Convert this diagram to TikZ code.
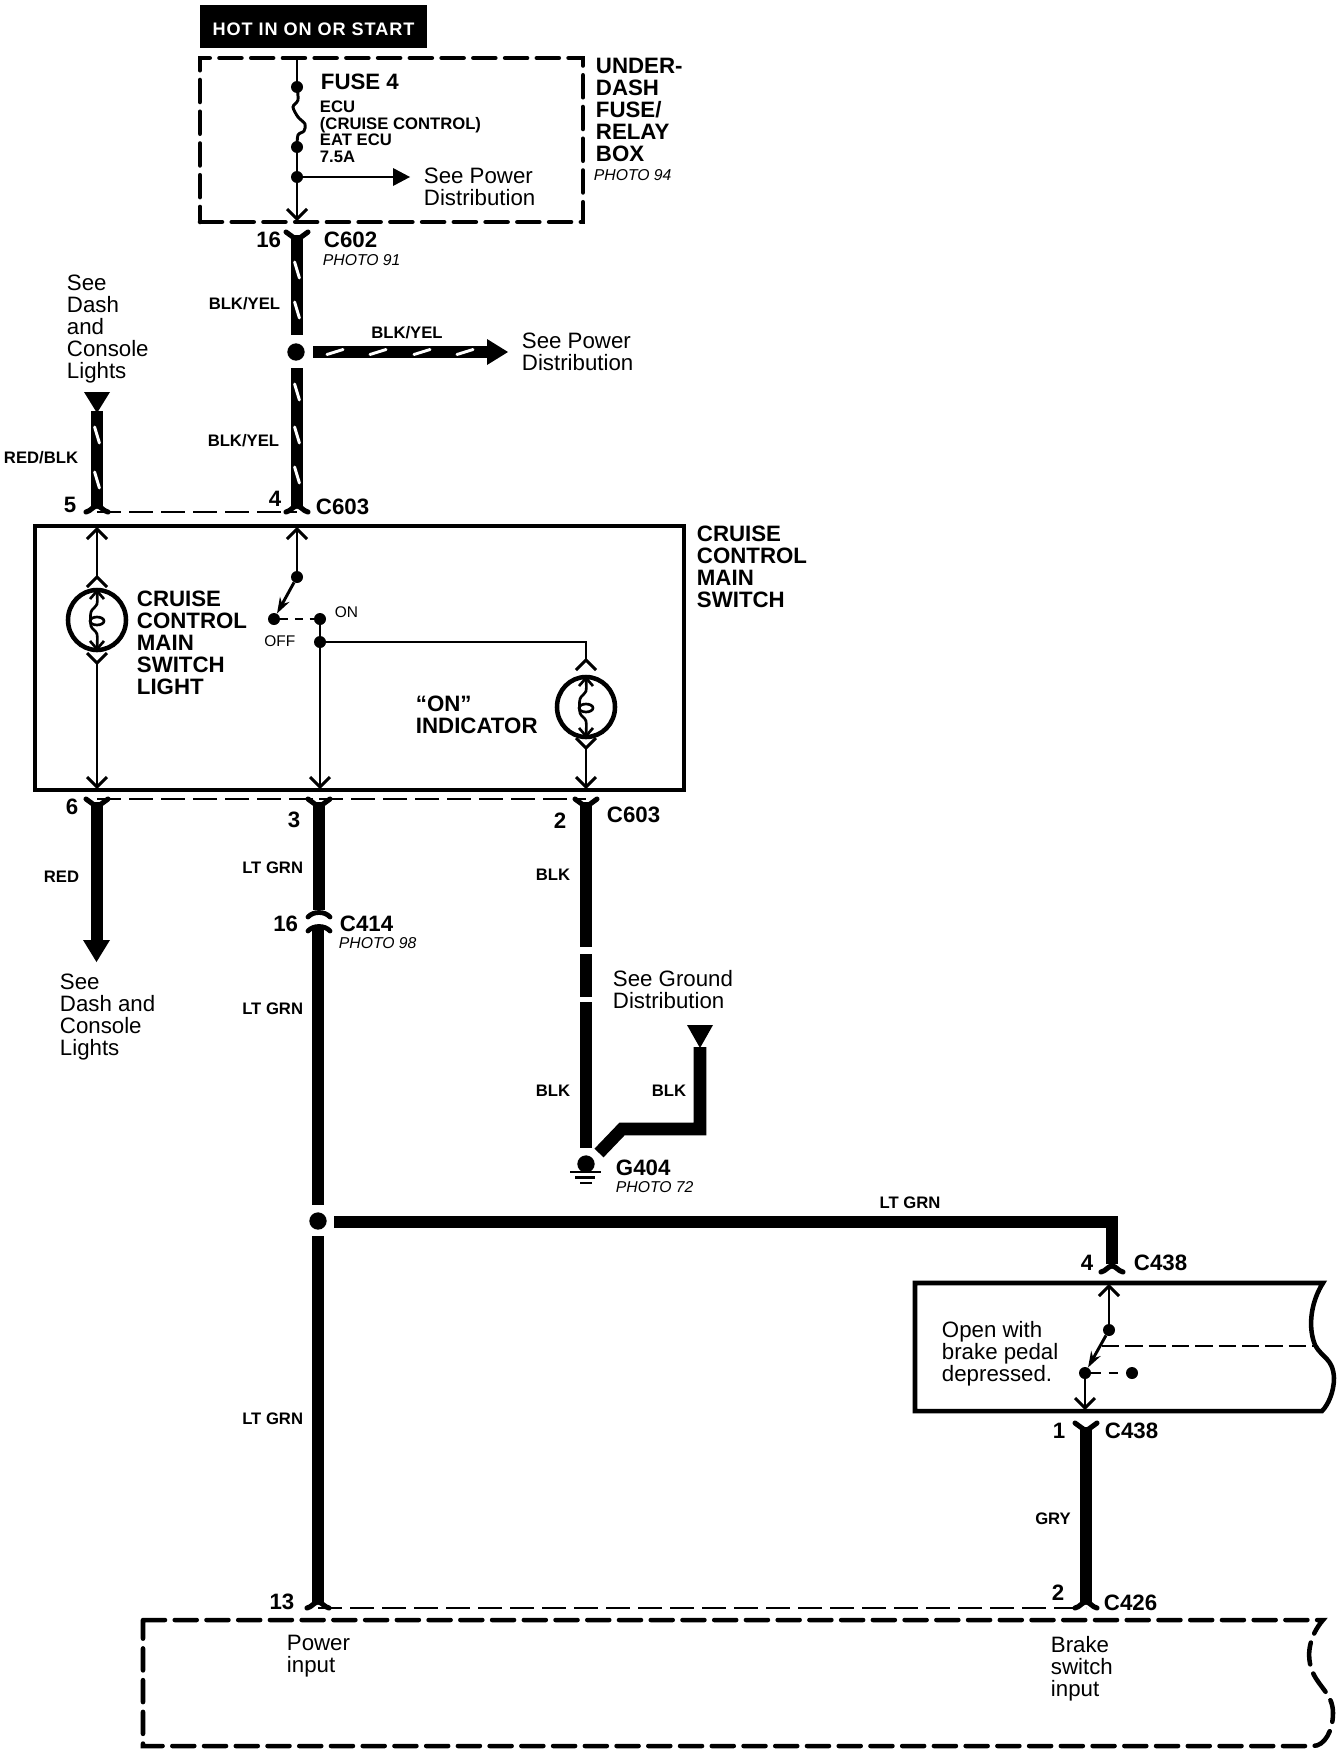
\documentclass[tikz,border=0pt]{standalone}
\usepackage{fontspec}
\setmainfont{Liberation Sans}
\newfontfamily\hotfont[LetterSpace=5]{Liberation Sans}
\usetikzlibrary{arrows.meta}
\tikzset{
  txt/.style={inner sep=0pt,outer sep=0pt,align=left,anchor=north west,xshift=-0.8pt},
  re/.style={anchor=north east,xshift=1.6pt},
  ctr/.style={anchor=north,xshift=0.8pt},
  big/.style={txt,font=\fontsize{16.7}{16.5}\selectfont},
  bigb/.style={txt,yshift=-0.6pt,font=\bfseries\fontsize{16.7}{16.5}\selectfont},
  small/.style={txt,font=\bfseries\fontsize{12.5}{12.5}\selectfont},
  photo/.style={txt,font=\itshape\fontsize{11.8}{11.8}\selectfont},
  tiny/.style={txt,font=\fontsize{11.6}{11.6}\selectfont},
  wire/.style={line width=9.4pt,line cap=butt},
  thinw/.style={line width=2.2pt},
  dashline/.style={line width=1.8pt,dash pattern=on 18pt off 6pt},
  dashbox/.style={draw,line width=3.4pt,line cap=round,dash pattern=on 16.5pt off 7.3pt,inner sep=0pt,outer sep=0pt},
  solidbox/.style={draw,line width=3.5pt,inner sep=0pt,outer sep=0pt},
  jdot/.style={circle,fill=black,inner sep=0pt,minimum size=13pt},
  sdot/.style={circle,fill=black,inner sep=0pt,minimum size=9pt},
  tipup/.pic={\draw[thinw] (-10,10)--(0,0)--(10,10);},
  tipdown/.pic={\draw[thinw] (-10,-10)--(0,0)--(10,-10);},
  conny/.pic={\draw[line width=3.8pt,line cap=round,line join=round] (-11,0)--(0,8)--(11,0);},
  connm/.pic={\draw[line width=3.8pt,line cap=round] (-11,0) .. controls (-6,-1) and (-4,-6) .. (0,-6) .. controls (4,-6) and (6,-1) .. (11,0);},
  connc/.pic={\draw[line width=3.6pt,line cap=round] (-11,6) .. controls (-6,0) and (6,0) .. (11,6);},
  slashv/.pic={\draw[white,line width=2.2pt,line cap=round] (-2.4,-8)--(2.4,8);},
  slashh/.pic={\draw[white,line width=2.2pt,line cap=round] (-8,2.5)--(8,-2.5);},
  tridown/.pic={\fill (-13,0)--(13,0)--(0,21)--cycle;},
  lamp/.pic={
    \draw[line width=3.4pt] (0,0) ellipse (29 and 30);
    \draw[line width=2pt] (-7,-21)--(0,-29)--(7,-21) (-7,21)--(0,29)--(7,21);
    \draw[line width=2pt] plot[smooth] coordinates {(0,-28) (0,-16) (-6,-8) (-6,6) (0,14) (0,28)};
    \draw[line width=2pt] (0,1) ellipse (7 and 4);
  },
}
\begin{document}
\begin{tikzpicture}[x=0.75pt,y=-0.75pt]
\useasboundingbox (0,0) rectangle (1344,1756);
\fill[white] (0,0) rectangle (1344,1756);

% ---- header
\node[fill=black,text=white,inner sep=0pt,outer sep=0pt,minimum width=170.25pt,minimum height=32.25pt,text height=13pt,text depth=0pt,
      font=\hotfont\bfseries\fontsize{13.6}{13.6}\selectfont] (hot) at (313.5,26.5) {HOT IN ON OR START};

% ---- fuse box
\node[dashbox,minimum width=287.25pt,minimum height=123pt] (fusebox) at (391.5,140) {};
\node[sdot] (f1) at (297,87) {};
\node[sdot] (f2) at (297,147) {};
\node[sdot] (f3) at (297,177) {};
\coordinate (ftop) at (297,58);
\coordinate (ftip) at (297,219);
\coordinate (farrow) at (395,177);
\draw[thinw] (ftop)--(f1);
\draw[thinw] plot[smooth] coordinates {(297,87) (298,100) (293,107) (298,117) (305,124) (304,131) (298,135) (297,147)};
\draw[thinw] (f2)--(f3)--(ftip);
\pic at (ftip) {tipdown};
\draw[thinw] (f3)--(farrow);
\fill (393,168)--(410,177)--(393,186)--cycle;
\node[bigb] (fuse4) at (322,73) {FUSE 4};
\node[small] (fuselist) at (321,101) {ECU\\(CRUISE CONTROL)\\EAT ECU\\7.5A};
\node[big] (seepd1) at (425,168) {See Power\\Distribution};
\node[bigb] (underdash) at (597,57) {UNDER-\\DASH\\FUSE/\\RELAY\\BOX};
\node[photo] (ph94) at (595,169.5) {PHOTO 94};

% ---- C602 wires
\coordinate (c16) at (297,232);
\coordinate (c16w) at (297,235);
\coordinate (j1a) at (297,335);
\node[jdot] (j1) at (296,352) {};
\coordinate (j1b) at (297,368);
\coordinate (c4w) at (297,508);
\coordinate (c4) at (297,512);
\pic at (c16) {conny};
\draw[wire] (c16w)--(j1a);
\draw[wire] (j1b)--(c4w);
\pic at (c4) {connm};
\foreach \y in {270,310,392,435,475} \pic at (297,\y) {slashv};
\node[bigb,re] (n16) at (280,231) {16};
\node[bigb] (c602) at (325,231) {C602};
\node[photo] (ph91) at (324,254.5) {PHOTO 91};
\node[small,re] (by1) at (279,297) {BLK/YEL};
\node[small,re] (by2) at (278,434) {BLK/YEL};

% ---- branch to power distribution
\coordinate (hb) at (313,352);
\coordinate (he) at (488,352);
\draw[wire] (hb)--(he);
\fill (487,339)--(508,352)--(487,365)--cycle;
\foreach \x in {335,378,422,465} \pic at (\x,352) {slashh};
\node[small,ctr] (by3) at (407,326) {BLK/YEL};
\node[big] (seepd2) at (523,333) {See Power\\Distribution};

% ---- RED/BLK
\node[big] (seedash1) at (68,275) {See\\Dash\\and\\Console\\Lights};
\pic at (97,392) {tridown};
\coordinate (r1) at (97,411);
\coordinate (c5w) at (97,508);
\coordinate (c5) at (97,512);
\draw[wire] (r1)--(c5w);
\pic at (c5) {connm};
\foreach \y in {435,480} \pic at (97,\y) {slashv};
\node[small,re] (rb) at (77,451) {RED/BLK};
\node[bigb,ctr] (n5) at (70,496) {5};
\node[bigb,ctr] (n4) at (275,490) {4};
\node[bigb] (c603a) at (317,498) {C603};
\draw[dashline] (c5)--(c4);

% ---- main switch box
\node[solidbox,minimum width=486.75pt,minimum height=198pt] (swbox) at (359.5,658) {};
\node[bigb] (cclabel) at (698,525) {CRUISE\\CONTROL\\MAIN\\SWITCH};
\node[bigb] (cclight) at (138,590) {CRUISE\\CONTROL\\MAIN\\SWITCH\\LIGHT};
\node[bigb] (onind) at (417,695) {``ON''\\INDICATOR};

\coordinate (l1t) at (97,529);
\coordinate (l1a) at (97,577);
\coordinate (l1b) at (97,663);
\coordinate (l1e) at (97,787);
\pic at (97,620) {lamp};
\pic at (l1t) {tipup};
\pic at (l1a) {tipup};
\pic at (l1b) {tipdown};
\pic at (l1e) {tipdown};
\draw[thinw] (l1t)--(l1a);
\draw[thinw] (l1b)--(l1e);

\coordinate (s1t) at (297,529);
\node[sdot] (s1) at (297,577) {};
\node[sdot] (s2) at (274,619) {};
\node[sdot] (s3) at (320,619) {};
\node[sdot] (s4) at (320,642) {};
\coordinate (s4e) at (320,787);
\coordinate (l2in) at (586,642);
\coordinate (l2a) at (586,660);
\coordinate (l2b) at (586,748);
\coordinate (l2e) at (586,787);
\pic at (s1t) {tipup};
\draw[thinw] (s1t)--(s1);
\draw[thinw,-{Stealth[length=12pt,width=8pt]}] (s1)--(s2);
\draw[line width=1.8pt,dash pattern=on 6pt off 5pt] (s2)--(s3);
\draw[thinw] (s3)--(s4)--(s4e);
\pic at (s4e) {tipdown};
\draw[thinw] (s4)--(l2in)--(l2a);
\pic at (l2a) {tipup};
\pic at (586,707) {lamp};
\pic at (l2b) {tipdown};
\draw[thinw] (l2b)--(l2e);
\pic at (l2e) {tipdown};
\node[tiny] (ontxt) at (336,606.5) {ON};
\node[tiny] (offtxt) at (265.5,636) {OFF};

% ---- C603 lower
\coordinate (c6) at (97,799);
\coordinate (c3) at (319,799);
\coordinate (c2) at (586,799);
\pic at (c6) {conny};
\pic at (c3) {conny};
\pic at (c2) {conny};
\draw[dashline] (c6)--(c3);
\draw[dashline] (c3)--(c2);
\node[bigb,ctr] (n6) at (72,798) {6};
\node[bigb,ctr] (n3) at (294,811) {3};
\node[bigb,ctr] (n2) at (560,812) {2};
\node[bigb] (c603b) at (608,806) {C603};

% RED wire
\coordinate (red1) at (97,802);
\coordinate (red2) at (97,941);
\draw[wire] (red1)--(red2);
\fill (83,940)--(110,940)--(96.5,962)--cycle;
\node[small,re] (redt) at (78,871) {RED};
\node[big] (seedash2) at (61,974) {See\\Dash and\\Console\\Lights};

% LT GRN wire
\coordinate (g1) at (319,802);
\coordinate (g2) at (319,910);
\coordinate (g3) at (318,927);
\coordinate (j2a) at (318,1205);
\node[jdot] (j2) at (318,1221) {};
\coordinate (j2b) at (318,1236);
\coordinate (c13w) at (318,1603);
\coordinate (c13) at (318,1608);
\draw[wire] (g1)--(g2);
\pic at (319,911) {connc};
\pic at (319,925) {connc};
\draw[wire] (g3)--(j2a);
\draw[wire] (j2b)--(c13w);
\pic at (c13) {connm};
\node[small,re] (lg1) at (302,862) {LT GRN};
\node[small,re] (lg2) at (302,1003) {LT GRN};
\node[small,re] (lg3) at (302,1413) {LT GRN};
\node[bigb,re] (n16b) at (297,915) {16};
\node[bigb] (c414) at (341,915) {C414};
\node[photo] (ph98) at (340,937.5) {PHOTO 98};
\node[bigb,ctr] (n13) at (282,1593) {13};

% horizontal LT GRN
\coordinate (h1) at (334,1222);
\coordinate (h2) at (1112,1222);
\coordinate (h3) at (1112,1264);
\coordinate (c4b) at (1112,1272);
\draw[wire,line join=miter] (h1)--(h2)--(h3);
\pic at (c4b) {connm};
\node[small,ctr] (lg4) at (910,1197) {LT GRN};
\node[bigb,ctr] (n4b) at (1087,1254) {4};
\node[bigb] (c438a) at (1135,1254) {C438};

% brake box
\coordinate (bb1) at (915,1283);
\coordinate (bb2) at (1323,1283);
\coordinate (bb3) at (1322,1411);
\coordinate (bb4) at (915,1411);
\draw[line width=3.4pt,line join=miter] (bb1)--(bb2) .. controls (1312,1300) and (1307,1325) .. (1315,1345)
   .. controls (1322,1358) and (1333,1358) .. (1334,1378) .. controls (1334,1392) and (1328,1405) .. (bb3)--(bb4)--cycle;
\coordinate (b1t) at (1109,1286);
\node[sdot] (b1) at (1109,1330) {};
\node[sdot] (b2) at (1085,1373) {};
\node[sdot] (b3) at (1132,1373) {};
\coordinate (b2e) at (1085,1408);
\coordinate (bd1) at (1102,1346);
\coordinate (bd2) at (1315,1346);
\pic at (b1t) {tipup};
\draw[thinw] (b1t)--(b1);
\draw[thinw,-{Stealth[length=12pt,width=8pt]}] (b1)--(b2);
\draw[line width=1.8pt,dash pattern=on 7pt off 6pt] (b2)--(b3);
\draw[thinw] (b2)--(b2e);
\pic at (b2e) {tipdown};
\draw[dashline,dash pattern=on 13pt off 4.5pt] (bd1)--(bd2);
\node[big] (opent) at (943,1321) {Open with\\brake pedal\\depressed.};

% GRY wire
\coordinate (c1) at (1086,1423);
\coordinate (c1w) at (1086,1427);
\coordinate (c2bw) at (1086,1603);
\coordinate (c2b) at (1086,1608);
\pic at (c1) {conny};
\draw[wire] (c1w)--(c2bw);
\pic at (c2b) {connm};
\draw[dashline] (c13)--(c2b);
\node[bigb,ctr] (n1) at (1059,1422) {1};
\node[bigb] (c438b) at (1106,1422) {C438};
\node[small,ctr] (gry) at (1053,1513) {GRY};
\node[bigb,ctr] (n2b) at (1058,1584) {2};
\node[bigb] (c426) at (1105,1594) {C426};

% right ground wire
\node[jdot] (g404) at (586,1164) {};
\coordinate (k1) at (586,802);
\coordinate (k2) at (586,947);
\coordinate (k3) at (586,954);
\coordinate (k4) at (586,997);
\coordinate (k5) at (586,1002);
\coordinate (k6) at (586,1148);
\draw[wire] (k1)--(k2);
\draw[wire] (k3)--(k4);
\draw[wire] (k5)--(k6);
\coordinate (m1) at (700,1047);
\coordinate (m2) at (700,1129);
\coordinate (m3) at (622,1129);
\coordinate (m4) at (599,1153);
\draw[wire,line join=miter] (m1)--(m2)--(m3)--(m4);
\fill (687,1025)--(713,1025)--(700,1048)--cycle;
\draw[line width=1.8pt] (570,1172)--(601,1172);
\draw[line width=1.8pt] (575,1177.5)--(595,1177.5);
\draw[line width=1.8pt] (580,1183)--(592,1183);
\node[small,re] (blk1) at (569,869) {BLK};
\node[small,re] (blk2) at (569,1085) {BLK};
\node[small] (blk3) at (653,1085) {BLK};
\node[big] (seegd) at (614,970) {See Ground\\Distribution};
\node[bigb] (g404t) at (617,1159) {G404};
\node[photo] (ph72) at (617,1181.5) {PHOTO 72};

% ECU box
\coordinate (e1) at (143,1620);
\coordinate (e2) at (1323,1620);
\coordinate (e3) at (1313,1746);
\coordinate (e4) at (143,1746);
\draw[line width=3.4pt,line cap=round,dash pattern=on 16.5pt off 7.3pt]
   (e1)--(e2) .. controls (1310,1635) and (1305,1655) .. (1313,1673)
   .. controls (1320,1688) and (1333,1695) .. (1333,1713) .. controls (1333,1730) and (1325,1746) .. (e3)--(e4)--cycle;
\node[big] (powert) at (288,1635) {Power\\input};
\node[big] (braket) at (1052,1636) {Brake\\switch\\input};
\end{tikzpicture}
\end{document}
